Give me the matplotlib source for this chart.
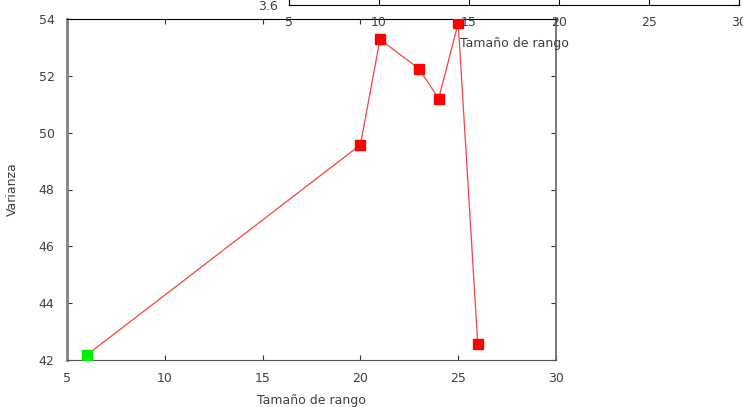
import numpy as np
import matplotlib.pyplot as plt

# rango sizes and variance values
rango = [6, 20, 21, 23, 24, 25, 26]
varianza = [42.17, 49.57, 53.28, 52.25, 51.2, 53.85, 42.56]
xticks = [5, 10, 15, 20, 25, 30]
yticks = [42, 44, 46, 48, 50, 52, 54]

plt.rcParams['font.family'] = ['DejaVu Sans']
plt.rcParams['font.size'] = 9
txt = '#404040'

fig = plt.figure(figsize=(7.43, 4.07), dpi=100)

# main plot
W, H = 743, 407
ax = fig.add_axes([67 / W, 1 - 360 / H, (556 - 67) / W, (360 - 19) / H])
ax.plot(rango, varianza, color='#ff4040', lw=0.9, zorder=2)
ax.plot(rango[1:], varianza[1:], 's', color='#ff0000', ms=7, zorder=3)
ax.plot(rango[:1], varianza[:1], 's', color='#00ee00', ms=7, zorder=3)
ax.set_xlim(5, 30)
ax.set_ylim(42, 54)
ax.set_xticks(xticks)
ax.set_yticks(yticks)
ax.tick_params(direction='in', length=3.5, width=0.8, top=True, right=True,
               colors='#333333', labelcolor=txt, pad=9)
ax.spines['left'].set_color('#808080')
ax.spines['left'].set_linewidth(2)
ax.spines['right'].set_color('#707070')
ax.spines['right'].set_linewidth(1.3)
ax.spines['bottom'].set_color('#555555')
ax.spines['top'].set_color('black')
ax.set_xlabel('Tamaño de rango', color=txt, labelpad=6)
ax.set_ylabel('Varianza', color=txt, labelpad=14)

# second plot sticking in from the top
ax2 = fig.add_axes([289 / W, 1 - 5 / H, (739 - 289) / W, 0.6])
ax2.set_facecolor('none')
ax2.set_xlim(5, 30)
ax2.set_ylim(3.6, 5)
ax2.set_xticks(xticks)
ax2.set_yticks([3.6])
ax2.tick_params(direction='in', length=4, width=0.8, top=True, right=True,
                colors='black', labelcolor=txt, pad=8)
for s in ax2.spines.values():
    s.set_color('black')
ax2.set_xlabel('Tamaño de rango', color=txt, labelpad=6)

fig.savefig('out.png', dpi=100)
